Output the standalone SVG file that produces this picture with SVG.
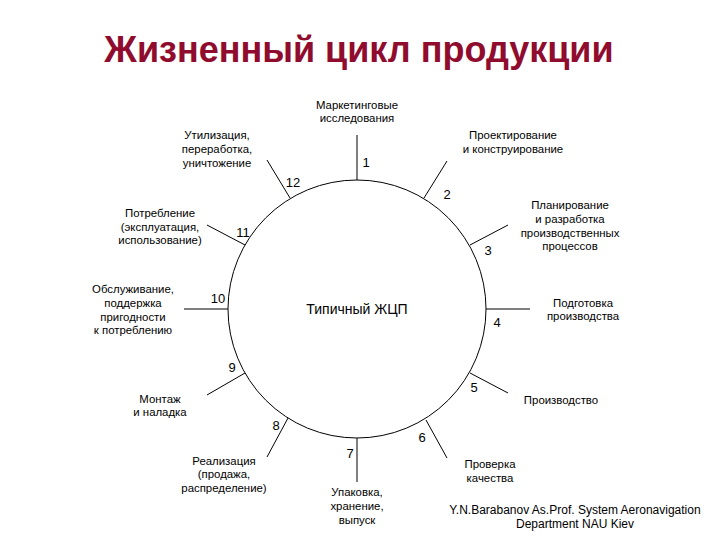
<svg xmlns="http://www.w3.org/2000/svg" width="720" height="540" viewBox="0 0 720 540">
<style>
.t{font-family:"Liberation Sans",Arial,sans-serif;font-size:11.4px;fill:#000;text-anchor:middle}
.c{font-family:"Liberation Sans",Arial,sans-serif;font-size:12px;fill:#000;text-anchor:middle}
.n{font-family:"Liberation Sans",Arial,sans-serif;font-size:13px;fill:#000;text-anchor:middle}
.l{stroke:#000;stroke-width:1;fill:none}
</style>
<rect width="720" height="540" fill="#fff"/>
<text x="359" y="62" style="font-family:'Liberation Sans',Arial,sans-serif;font-size:36px;font-weight:bold;fill:#900C2E;text-anchor:middle">Жизненный цикл продукции</text>
<g id="cycle">
<circle cx="357" cy="309" r="129" class="l"/>
<text x="357" y="314" style="font-family:'Liberation Sans',Arial,sans-serif;font-size:14px;text-anchor:middle">Типичный ЖЦП</text>
</g>
<g id="connectors">
<line class="l" x1="357" y1="180" x2="357" y2="135"/>
<line class="l" x1="424" y1="198" x2="447" y2="161"/>
<line class="l" x1="470" y1="245" x2="508" y2="225"/>
<line class="l" x1="486" y1="309" x2="530" y2="309"/>
<line class="l" x1="470" y1="373" x2="508" y2="393"/>
<line class="l" x1="426" y1="420" x2="447" y2="458"/>
<line class="l" x1="357" y1="438" x2="357" y2="482"/>
<line class="l" x1="288" y1="418" x2="267" y2="457"/>
<line class="l" x1="245" y1="373" x2="207" y2="395"/>
<line class="l" x1="228" y1="309" x2="184" y2="309"/>
<line class="l" x1="245" y1="245" x2="207" y2="225"/>
<line class="l" x1="290" y1="198" x2="267" y2="160"/>
</g>
<g id="n1"><text class="n" x="366" y="167">1</text><text class="t" x="357" y="109">Маркетинговые</text><text class="t" x="357" y="122">исследования</text></g>
<g id="n2"><text class="n" x="447" y="199">2</text><text class="t" x="513" y="139">Проектирование</text><text class="t" x="513" y="153">и конструирование</text></g>
<g id="n3"><text class="n" x="488" y="255">3</text><text class="t" x="570" y="209">Планирование</text><text class="t" x="570" y="223">и разработка</text><text class="t" x="570" y="237">производственных</text><text class="t" x="570" y="250">процессов</text></g>
<g id="n4"><text class="n" x="497" y="327">4</text><text class="t" x="583" y="307">Подготовка</text><text class="t" x="583" y="320">производства</text></g>
<g id="n5"><text class="n" x="474" y="392">5</text><text class="t" x="561" y="404">Производство</text></g>
<g id="n6"><text class="n" x="422" y="442">6</text><text class="t" x="490" y="468">Проверка</text><text class="t" x="490" y="482">качества</text></g>
<g id="n7"><text class="n" x="350" y="458">7</text><text class="t" x="357" y="496">Упаковка,</text><text class="t" x="357" y="510">хранение,</text><text class="t" x="357" y="524">выпуск</text></g>
<g id="n8"><text class="n" x="276" y="430">8</text><text class="t" x="224" y="465">Реализация</text><text class="t" x="224" y="478">(продажа,</text><text class="t" x="224" y="492">распределение)</text></g>
<g id="n9"><text class="n" x="232" y="372">9</text><text class="t" x="160" y="403">Монтаж</text><text class="t" x="160" y="416">и наладка</text></g>
<g id="n10"><text class="n" x="218" y="303">10</text><text class="t" x="133" y="293">Обслуживание,</text><text class="t" x="133" y="307">поддержка</text><text class="t" x="133" y="321">пригодности</text><text class="t" x="133" y="334">к потреблению</text></g>
<g id="n11"><text class="n" x="243" y="237">11</text><text class="t" x="160" y="217">Потребление</text><text class="t" x="160" y="231">(эксплуатация,</text><text class="t" x="160" y="244">использование)</text></g>
<g id="n12"><text class="n" x="293" y="187">12</text><text class="t" x="217" y="139">Утилизация,</text><text class="t" x="217" y="153">переработка,</text><text class="t" x="217" y="167">уничтожение</text></g>
<g id="credit"><text class="c" x="575" y="514">Y.N.Barabanov As.Prof. System Aeronavigation</text><text class="c" x="575" y="528">Department NAU Kiev</text></g>
</svg>
